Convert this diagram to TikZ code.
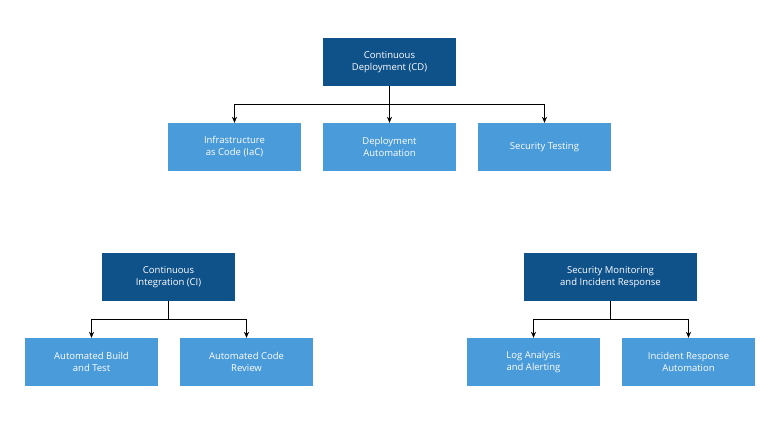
\documentclass[tikz,border=0pt]{standalone}
\usepackage{fontspec}
\setmainfont{Open Sans}
\usetikzlibrary{arrows.meta}
\definecolor{dk}{HTML}{0F528A}
\definecolor{lt}{HTML}{4A9BD9}
\begin{document}
\begin{tikzpicture}[x=1pt,y=-1pt,
 box/.style={minimum width=133pt,minimum height=48pt,text=white,font=\fontsize{9.5}{12}\selectfont,align=center,inner sep=0},
 par/.style={box,fill=dk},
 ch/.style={box,fill=lt},
 ar/.style={-{Stealth[length=6pt,width=5pt]},black}]
\useasboundingbox (0,0) rectangle (780,425);
\node[par] (cd) at (389.5,62) {Continuous\\Deployment (CD)};
\node[ch] (iac) at (234.5,147) {Infrastructure\\as Code (IaC)};
\node[ch] (da) at (389.5,147) {Deployment\\Automation};
\node[ch] (st) at (544.5,147) {Security Testing};
\node[par] (ci) at (168.5,277) {Continuous\\Integration (CI)};
\node[ch] (ab) at (91.5,362) {Automated Build\\and Test};
\node[ch] (ac) at (246.5,362) {Automated Code\\Review};
\node[par,minimum width=173pt] (sm) at (610.5,277) {Security Monitoring\\and Incident Response};
\node[ch] (la) at (533.5,362) {Log Analysis\\and Alerting};
\node[ch] (ir) at (688.5,362) {Incident Response\\Automation};
\coordinate (j1) at (389.5,104);
\draw (cd.south) -- (j1);
\draw[ar] (j1) -| (iac.north);
\draw[ar] (j1) -- (da.north);
\draw[ar] (j1) -| (st.north);
\coordinate (j2) at (168.5,319);
\draw (ci.south) -- (j2);
\draw[ar] (j2) -| (ab.north);
\draw[ar] (j2) -| (ac.north);
\coordinate (j3) at (610.5,319);
\draw (sm.south) -- (j3);
\draw[ar] (j3) -| (la.north);
\draw[ar] (j3) -| (ir.north);
\end{tikzpicture}
\end{document}
